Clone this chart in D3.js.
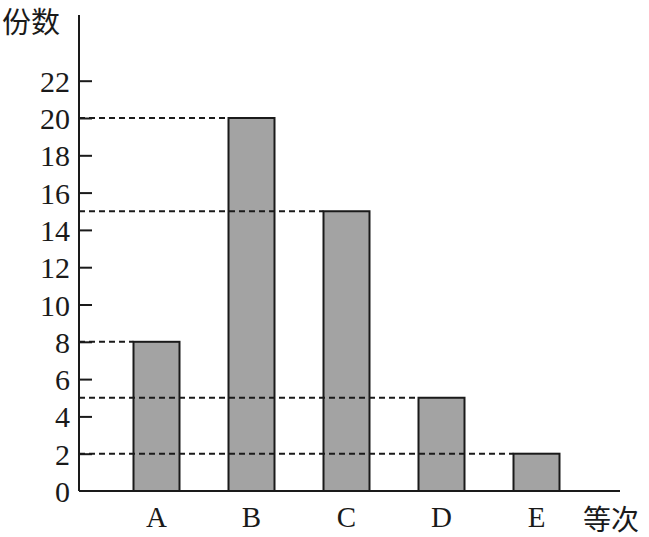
<!DOCTYPE html>
<html>
<head>
<meta charset="utf-8">
<script src="https://cdn.jsdelivr.net/npm/d3@7"></script>
<style>
  body { margin: 0; background: #fff; }
  svg { display: block; }
  .tick text { font-family: "Liberation Serif", "DejaVu Serif", serif; }
</style>
</head>
<body>
<div id="chart"></div>
<script>
var width = 649;
var height = 537;

// data
var grades = ["A", "B", "C", "D", "E"];
var counts = [8, 20, 15, 5, 2];
var yTicks = [0, 2, 4, 6, 8, 10, 12, 14, 16, 18, 20, 22];

var svg = d3.select("#chart")
    .append("svg")
    .attr("width", width)
    .attr("height", height);

var axisX = 79;
var yScale = d3.scaleLinear().domain([0, 20]).range([491, 118]);
var xScale = d3.scalePoint().domain(grades).range([109, 584]).padding(0.5);
var barW = 46;

// bars
svg.selectAll("rect.bar")
    .data(counts)
    .enter()
    .append("rect")
    .attr("class", "bar")
    .attr("x", function(d, i) { return xScale(grades[i]) - barW / 2; })
    .attr("y", function(d) { return yScale(d); })
    .attr("width", barW)
    .attr("height", function(d) { return yScale(0) - yScale(d); })
    .attr("fill", "#a3a3a3")
    .attr("stroke", "#1a1a1a")
    .attr("stroke-width", 2);

// dashed guide lines from axis to bar top
svg.selectAll("line.guide")
    .data(counts)
    .enter()
    .append("line")
    .attr("class", "guide")
    .attr("x1", axisX)
    .attr("x2", function(d, i) { return xScale(grades[i]) - barW / 2; })
    .attr("y1", function(d) { return yScale(d); })
    .attr("y2", function(d) { return yScale(d); })
    .attr("stroke", "#1a1a1a")
    .attr("stroke-width", 2)
    .attr("stroke-dasharray", "6,4");

// y axis: ticks point inward
var yAxis = d3.axisRight(yScale)
    .tickValues(yTicks)
    .tickSize(13)
    .tickFormat(d3.format("d"));

var yG = svg.append("g")
    .attr("transform", "translate(" + axisX + ",0)")
    .call(yAxis);
yG.select(".domain").remove();
yG.selectAll(".tick line").attr("stroke", "#1a1a1a").attr("stroke-width", 2);
yG.selectAll(".tick text")
    .attr("x", -9)
    .attr("dy", "0.35em")
    .style("text-anchor", "end")
    .attr("font-size", 30)
    .attr("fill", "#1a1a1a");
// the 0 tick has no mark, only its label
yG.selectAll(".tick").filter(function(d) { return d === 0; }).select("line").remove();

svg.append("line")
    .attr("x1", axisX).attr("x2", axisX)
    .attr("y1", 15).attr("y2", yScale(0))
    .attr("stroke", "#1a1a1a").attr("stroke-width", 2);

// x axis
svg.append("line")
    .attr("x1", axisX).attr("x2", 620)
    .attr("y1", yScale(0)).attr("y2", yScale(0))
    .attr("stroke", "#1a1a1a").attr("stroke-width", 2);

svg.selectAll("text.cat")
    .data(grades)
    .enter()
    .append("text")
    .attr("class", "cat")
    .attr("x", function(d) { return xScale(d); })
    .attr("y", 527)
    .attr("text-anchor", "middle")
    .attr("font-family", "Liberation Serif, serif")
    .attr("font-size", 29)
    .attr("fill", "#1a1a1a")
    .text(function(d) { return d; });

// axis titles
svg.append("text")
    .attr("x", 2)
    .attr("y", 33)
    .attr("font-family", "Noto Sans CJK SC, sans-serif")
    .attr("font-size", 29)
    .attr("fill", "#1a1a1a")
    .text("份数");

svg.append("text")
    .attr("x", 583)
    .attr("y", 530)
    .attr("font-family", "Noto Sans CJK SC, sans-serif")
    .attr("font-size", 28)
    .attr("fill", "#1a1a1a")
    .text("等次");
</script>
</body>
</html>
